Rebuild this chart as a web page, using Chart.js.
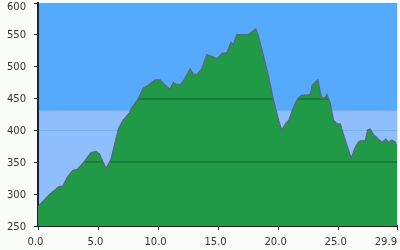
<!DOCTYPE html>
<html>
<head>
<meta charset="utf-8">
<script src="https://cdn.jsdelivr.net/npm/chart.js"></script>
<style>
  html, body { margin: 0; padding: 0; background: #fafcfa; }
  #wrap { width: 400px; height: 250px; }
</style>
</head>
<body>
<div id="wrap"><canvas id="profile"></canvas></div>
<script>
// distance (km) and elevation (m)
const distances = [0, 0.94, 1.78, 2.06, 2.47, 2.89, 3.3, 3.86, 4.42, 4.83, 5.1, 5.67, 6.08, 6.44, 6.72, 7.1, 7.6,
  7.8, 8.36, 8.78, 9.2, 9.75, 10.17, 10.58, 11.0, 11.28, 11.42, 11.83, 12.2, 12.67, 12.94, 13.22, 13.64, 14.06, 14.47, 14.9,
  15.36, 15.72, 16.08, 16.28, 16.56, 17.53, 17.86, 18.14, 18.36, 18.78, 19.2, 19.6, 20.03, 20.3, 20.64, 20.9, 21.28, 21.64, 21.97,
  22.67, 22.86, 23.3, 23.58, 23.86, 24.06, 24.33, 24.6, 24.9, 25.17, 25.44, 25.8, 26.08, 26.4, 26.7, 26.97, 27.25, 27.47, 27.67,
  27.94, 28.14, 28.36, 28.64, 28.97, 29.2, 29.47, 29.75, 29.9];
const elevations = [280, 299, 312, 312, 327, 337, 339, 351, 365, 367, 363, 340, 354, 382, 403, 416, 427,
  435, 450, 466, 471, 479, 479, 471, 464, 475, 473, 471, 480, 496, 488, 487, 496, 519, 516, 512,
  521, 521, 538, 534, 550, 550, 555, 559, 547, 516, 484, 448, 416, 400, 411, 416, 436, 450, 455,
  456, 471, 479, 453, 450, 456, 443, 416, 410, 410, 393, 372, 356, 372, 382, 384, 383, 401, 402,
  393, 390, 386, 381, 386, 381, 385, 381, 374];

const xTickValues = [0, 5, 10, 15, 20, 25, 29.9];
const yTickValues = [250, 300, 350, 400, 450, 500, 550, 600];
const bandTop = 431;          // top of the lighter blue band
const levelLines = [350, 450]; // dark lines drawn inside the fill

const points = distances.map((d, i) => ({ x: d, y: elevations[i] }));

const background = {
  id: 'background',
  beforeDraw(chart) {
    const { ctx, chartArea: a, scales } = chart;
    const yb = scales.y.getPixelForValue(bandTop);
    ctx.save();
    ctx.fillStyle = '#55aafb';
    ctx.fillRect(a.left, a.top, a.right - a.left, a.bottom - a.top);
    ctx.fillStyle = '#8fbefd';
    ctx.fillRect(a.left, yb, a.right - a.left, a.bottom - yb);
    ctx.fillStyle = '#d8e8d8';
    ctx.fillRect(a.right, a.top, 1, a.bottom - a.top);
    ctx.restore();
  }
};

const insideLines = {
  id: 'insideLines',
  afterDatasetsDraw(chart) {
    const { ctx, chartArea: a, scales } = chart;
    const pts = chart.getDatasetMeta(0).data;
    ctx.save();
    ctx.beginPath();
    ctx.moveTo(pts[0].x, a.bottom);
    pts.forEach(p => ctx.lineTo(p.x, p.y + 1.5));
    ctx.lineTo(pts[pts.length - 1].x, a.bottom);
    ctx.closePath();
    ctx.clip();
    ctx.strokeStyle = '#1b7a3a';
    ctx.lineWidth = 2;
    levelLines.forEach(v => {
      const y = Math.round(scales.y.getPixelForValue(v));
      ctx.beginPath();
      ctx.moveTo(a.left, y);
      ctx.lineTo(a.right, y);
      ctx.stroke();
    });
    ctx.restore();
  }
};

const axisLabels = {
  id: 'axisLabels',
  afterDraw(chart) {
    const { ctx, chartArea: a, scales } = chart;
    ctx.save();
    ctx.font = '10px "DejaVu Sans"';
    ctx.fillStyle = '#333';
    ctx.textAlign = 'right';
    ctx.textBaseline = 'middle';
    yTickValues.forEach(v => {
      const y = Math.max(scales.y.getPixelForValue(v) + 1, a.top + 4.5);
      ctx.fillText(String(v), a.left - 12, y);
    });
    ctx.textBaseline = 'alphabetic';
    xTickValues.forEach((v, i) => {
      const x = scales.x.getPixelForValue(v);
      const last = i === xTickValues.length - 1;
      ctx.textAlign = last ? 'right' : 'center';
      ctx.fillText(v.toFixed(1), last ? x : x - 2.5, 245);
    });
    ctx.restore();
  }
};

new Chart(document.getElementById('profile'), {
  type: 'line',
  data: {
    datasets: [{
      data: points,
      fill: 'start',
      backgroundColor: '#219a47',
      borderColor: '#566b7e',
      borderWidth: 1.5,
      pointRadius: 0,
      tension: 0
    }]
  },
  options: {
    responsive: true,
    maintainAspectRatio: false,
    animation: false,
    layout: { padding: { left: 34, right: 3, top: 3, bottom: 20 } },
    plugins: { legend: { display: false }, tooltip: { enabled: false } },
    scales: {
      x: {
        type: 'linear',
        min: 0,
        max: 29.9,
        afterBuildTicks: s => { s.ticks = xTickValues.map(v => ({ value: v })); },
        ticks: { display: false },
        grid: { color: 'rgba(0,0,0,0)', tickColor: '#222', tickLength: 4 },
        border: { color: '#222', width: 2 }
      },
      y: {
        min: 250,
        max: 600,
        afterBuildTicks: s => { s.ticks = yTickValues.map(v => ({ value: v })); },
        ticks: { display: false },
        grid: {
          color: c => (c.tick && c.tick.value === 400) ? '#6db2ff' : 'rgba(0,0,0,0)',
          tickColor: '#222',
          tickLength: 4
        },
        border: { color: '#222', width: 2 }
      }
    }
  },
  plugins: [background, insideLines, axisLabels]
});
</script>
</body>
</html>
